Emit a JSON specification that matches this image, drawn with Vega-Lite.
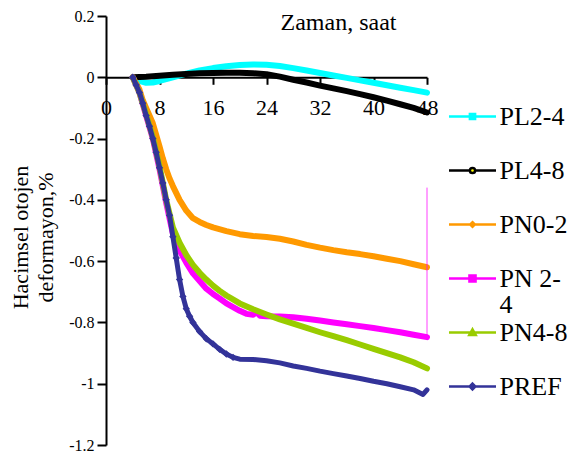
{
  "$schema": "https://vega.github.io/schema/vega-lite/v6.json",
  "width": 321,
  "height": 429,
  "autosize": {"type": "none"},
  "padding": {"left": 106, "top": 16, "right": 145, "bottom": 9},
  "background": "white",
  "config": {
    "font": "Liberation Serif",
    "view": {"stroke": null},
    "axis": {"grid": false, "domainColor": "black", "tickColor": "black", "labelColor": "black", "titleColor": "black", "titleFontWeight": "normal", "domainWidth": 2, "tickWidth": 2, "labelFont": "Liberation Serif", "titleFont": "Liberation Serif"},
    "legend": {"labelFont": "Liberation Serif", "labelColor": "black"}
  },
  "data": {"values": [
    {"s": "PL2-4", "t": 4, "v": 0}, {"s": "PL2-4", "t": 5, "v": -0.012}, {"s": "PL2-4", "t": 6, "v": -0.018}, {"s": "PL2-4", "t": 7, "v": -0.017}, {"s": "PL2-4", "t": 8, "v": -0.012}, {"s": "PL2-4", "t": 10, "v": 0}, {"s": "PL2-4", "t": 12, "v": 0.012}, {"s": "PL2-4", "t": 14, "v": 0.022}, {"s": "PL2-4", "t": 16, "v": 0.03}, {"s": "PL2-4", "t": 18, "v": 0.036}, {"s": "PL2-4", "t": 20, "v": 0.04}, {"s": "PL2-4", "t": 22, "v": 0.042}, {"s": "PL2-4", "t": 24, "v": 0.041}, {"s": "PL2-4", "t": 26, "v": 0.037}, {"s": "PL2-4", "t": 28, "v": 0.03}, {"s": "PL2-4", "t": 30, "v": 0.022}, {"s": "PL2-4", "t": 32, "v": 0.014}, {"s": "PL2-4", "t": 34, "v": 0.006}, {"s": "PL2-4", "t": 36, "v": -0.002}, {"s": "PL2-4", "t": 38, "v": -0.01}, {"s": "PL2-4", "t": 40, "v": -0.018}, {"s": "PL2-4", "t": 42, "v": -0.026}, {"s": "PL2-4", "t": 44, "v": -0.034}, {"s": "PL2-4", "t": 46, "v": -0.042}, {"s": "PL2-4", "t": 48, "v": -0.05},
    {"s": "PL4-8", "t": 4, "v": 0}, {"s": "PL4-8", "t": 6, "v": 0.002}, {"s": "PL4-8", "t": 8, "v": 0.005}, {"s": "PL4-8", "t": 10, "v": 0.008}, {"s": "PL4-8", "t": 12, "v": 0.011}, {"s": "PL4-8", "t": 14, "v": 0.013}, {"s": "PL4-8", "t": 16, "v": 0.014}, {"s": "PL4-8", "t": 18, "v": 0.015}, {"s": "PL4-8", "t": 20, "v": 0.015}, {"s": "PL4-8", "t": 22, "v": 0.013}, {"s": "PL4-8", "t": 24, "v": 0.01}, {"s": "PL4-8", "t": 26, "v": 0.002}, {"s": "PL4-8", "t": 28, "v": -0.008}, {"s": "PL4-8", "t": 30, "v": -0.017}, {"s": "PL4-8", "t": 32, "v": -0.027}, {"s": "PL4-8", "t": 34, "v": -0.036}, {"s": "PL4-8", "t": 36, "v": -0.045}, {"s": "PL4-8", "t": 38, "v": -0.055}, {"s": "PL4-8", "t": 40, "v": -0.065}, {"s": "PL4-8", "t": 42, "v": -0.076}, {"s": "PL4-8", "t": 44, "v": -0.088}, {"s": "PL4-8", "t": 46, "v": -0.1}, {"s": "PL4-8", "t": 48, "v": -0.115},
    {"s": "PN0-2", "t": 4, "v": 0}, {"s": "PN0-2", "t": 5, "v": -0.04}, {"s": "PN0-2", "t": 5.5, "v": -0.075}, {"s": "PN0-2", "t": 6, "v": -0.1}, {"s": "PN0-2", "t": 7, "v": -0.15}, {"s": "PN0-2", "t": 8, "v": -0.225}, {"s": "PN0-2", "t": 8.5, "v": -0.265}, {"s": "PN0-2", "t": 9, "v": -0.3}, {"s": "PN0-2", "t": 9.5, "v": -0.33}, {"s": "PN0-2", "t": 10, "v": -0.355}, {"s": "PN0-2", "t": 11, "v": -0.4}, {"s": "PN0-2", "t": 12, "v": -0.435}, {"s": "PN0-2", "t": 13, "v": -0.46}, {"s": "PN0-2", "t": 14, "v": -0.472}, {"s": "PN0-2", "t": 15, "v": -0.482}, {"s": "PN0-2", "t": 16, "v": -0.49}, {"s": "PN0-2", "t": 18, "v": -0.502}, {"s": "PN0-2", "t": 20, "v": -0.512}, {"s": "PN0-2", "t": 22, "v": -0.518}, {"s": "PN0-2", "t": 24, "v": -0.521}, {"s": "PN0-2", "t": 26, "v": -0.527}, {"s": "PN0-2", "t": 28, "v": -0.536}, {"s": "PN0-2", "t": 30, "v": -0.547}, {"s": "PN0-2", "t": 32, "v": -0.556}, {"s": "PN0-2", "t": 34, "v": -0.564}, {"s": "PN0-2", "t": 36, "v": -0.571}, {"s": "PN0-2", "t": 38, "v": -0.577}, {"s": "PN0-2", "t": 40, "v": -0.584}, {"s": "PN0-2", "t": 42, "v": -0.592}, {"s": "PN0-2", "t": 44, "v": -0.6}, {"s": "PN0-2", "t": 46, "v": -0.61}, {"s": "PN0-2", "t": 48, "v": -0.62},
    {"s": "PN 2-4", "t": 4, "v": 0}, {"s": "PN 2-4", "t": 5, "v": -0.05}, {"s": "PN 2-4", "t": 6, "v": -0.125}, {"s": "PN 2-4", "t": 7, "v": -0.2}, {"s": "PN 2-4", "t": 8, "v": -0.3}, {"s": "PN 2-4", "t": 9, "v": -0.41}, {"s": "PN 2-4", "t": 10, "v": -0.51}, {"s": "PN 2-4", "t": 11, "v": -0.565}, {"s": "PN 2-4", "t": 12, "v": -0.605}, {"s": "PN 2-4", "t": 13, "v": -0.64}, {"s": "PN 2-4", "t": 14, "v": -0.665}, {"s": "PN 2-4", "t": 15, "v": -0.69}, {"s": "PN 2-4", "t": 16, "v": -0.707}, {"s": "PN 2-4", "t": 17, "v": -0.722}, {"s": "PN 2-4", "t": 18, "v": -0.738}, {"s": "PN 2-4", "t": 20, "v": -0.762}, {"s": "PN 2-4", "t": 21, "v": -0.772}, {"s": "PN 2-4", "t": 22, "v": -0.775}, {"s": "PN 2-4", "t": 22.5, "v": -0.765}, {"s": "PN 2-4", "t": 23, "v": -0.778}, {"s": "PN 2-4", "t": 24, "v": -0.78}, {"s": "PN 2-4", "t": 26, "v": -0.781}, {"s": "PN 2-4", "t": 28, "v": -0.783}, {"s": "PN 2-4", "t": 30, "v": -0.788}, {"s": "PN 2-4", "t": 32, "v": -0.794}, {"s": "PN 2-4", "t": 34, "v": -0.8}, {"s": "PN 2-4", "t": 36, "v": -0.806}, {"s": "PN 2-4", "t": 38, "v": -0.812}, {"s": "PN 2-4", "t": 40, "v": -0.818}, {"s": "PN 2-4", "t": 42, "v": -0.825}, {"s": "PN 2-4", "t": 44, "v": -0.832}, {"s": "PN 2-4", "t": 46, "v": -0.84}, {"s": "PN 2-4", "t": 48, "v": -0.848},
    {"s": "PN4-8", "t": 4, "v": 0}, {"s": "PN4-8", "t": 5, "v": -0.05}, {"s": "PN4-8", "t": 6, "v": -0.12}, {"s": "PN4-8", "t": 7, "v": -0.195}, {"s": "PN4-8", "t": 8, "v": -0.29}, {"s": "PN4-8", "t": 9, "v": -0.4}, {"s": "PN4-8", "t": 10, "v": -0.49}, {"s": "PN4-8", "t": 11, "v": -0.54}, {"s": "PN4-8", "t": 12, "v": -0.58}, {"s": "PN4-8", "t": 13, "v": -0.612}, {"s": "PN4-8", "t": 14, "v": -0.638}, {"s": "PN4-8", "t": 15, "v": -0.66}, {"s": "PN4-8", "t": 16, "v": -0.68}, {"s": "PN4-8", "t": 17, "v": -0.697}, {"s": "PN4-8", "t": 18, "v": -0.712}, {"s": "PN4-8", "t": 20, "v": -0.738}, {"s": "PN4-8", "t": 22, "v": -0.757}, {"s": "PN4-8", "t": 24, "v": -0.774}, {"s": "PN4-8", "t": 26, "v": -0.79}, {"s": "PN4-8", "t": 28, "v": -0.804}, {"s": "PN4-8", "t": 30, "v": -0.818}, {"s": "PN4-8", "t": 32, "v": -0.832}, {"s": "PN4-8", "t": 34, "v": -0.845}, {"s": "PN4-8", "t": 36, "v": -0.858}, {"s": "PN4-8", "t": 38, "v": -0.872}, {"s": "PN4-8", "t": 40, "v": -0.886}, {"s": "PN4-8", "t": 42, "v": -0.9}, {"s": "PN4-8", "t": 44, "v": -0.914}, {"s": "PN4-8", "t": 46, "v": -0.93}, {"s": "PN4-8", "t": 48, "v": -0.95},
    {"s": "PREF", "t": 4, "v": 0}, {"s": "PREF", "t": 4.5, "v": -0.025}, {"s": "PREF", "t": 5, "v": -0.05}, {"s": "PREF", "t": 5.5, "v": -0.085}, {"s": "PREF", "t": 6, "v": -0.125}, {"s": "PREF", "t": 6.5, "v": -0.16}, {"s": "PREF", "t": 7, "v": -0.2}, {"s": "PREF", "t": 7.5, "v": -0.245}, {"s": "PREF", "t": 8, "v": -0.295}, {"s": "PREF", "t": 8.5, "v": -0.345}, {"s": "PREF", "t": 9, "v": -0.4}, {"s": "PREF", "t": 9.5, "v": -0.45}, {"s": "PREF", "t": 10, "v": -0.52}, {"s": "PREF", "t": 10.5, "v": -0.59}, {"s": "PREF", "t": 11, "v": -0.66}, {"s": "PREF", "t": 11.5, "v": -0.715}, {"s": "PREF", "t": 12, "v": -0.755}, {"s": "PREF", "t": 12.5, "v": -0.78}, {"s": "PREF", "t": 13, "v": -0.8}, {"s": "PREF", "t": 14, "v": -0.83}, {"s": "PREF", "t": 15, "v": -0.853}, {"s": "PREF", "t": 16, "v": -0.87}, {"s": "PREF", "t": 17, "v": -0.888}, {"s": "PREF", "t": 18, "v": -0.903}, {"s": "PREF", "t": 19, "v": -0.914}, {"s": "PREF", "t": 20, "v": -0.92}, {"s": "PREF", "t": 22, "v": -0.921}, {"s": "PREF", "t": 24, "v": -0.925}, {"s": "PREF", "t": 26, "v": -0.932}, {"s": "PREF", "t": 28, "v": -0.942}, {"s": "PREF", "t": 30, "v": -0.95}, {"s": "PREF", "t": 32, "v": -0.959}, {"s": "PREF", "t": 34, "v": -0.967}, {"s": "PREF", "t": 36, "v": -0.975}, {"s": "PREF", "t": 38, "v": -0.983}, {"s": "PREF", "t": 40, "v": -0.992}, {"s": "PREF", "t": 42, "v": -1.0}, {"s": "PREF", "t": 44, "v": -1.01}, {"s": "PREF", "t": 46, "v": -1.02}, {"s": "PREF", "t": 47.4, "v": -1.035}, {"s": "PREF", "t": 48, "v": -1.02}
  ]},
  "layer": [
    {
      "transform": [{"filter": "datum.s != 'PREF'"}],
      "mark": {"type": "line", "strokeCap": "round", "strokeJoin": "round", "strokeWidth": 6},
      "encoding": {
        "x": {"field": "t", "type": "quantitative", "scale": {"domain": [0, 48], "nice": false, "zero": false},
          "axis": {"values": [0, 8, 16, 24, 32, 40, 48], "orient": "bottom", "offset": -367.714, "title": "Zaman, saat", "titleFontSize": 24, "titleX": 232, "titleY": -48, "titleAlign": "center", "titleBaseline": "alphabetic", "titleAnchor": "start", "labelFontSize": 22, "tickSize": 7, "labelPadding": 13, "labelFlush": false, "labelOverlap": false}},
        "y": {"field": "v", "type": "quantitative", "scale": {"domain": [-1.2, 0.2], "nice": false, "zero": false},
          "axis": {"values": [-1.2, -1, -0.8, -0.6, -0.4, -0.2, 0, 0.2], "labelExpr": "'' + round(datum.value*10)/10", "labelFontSize": 16, "tickSize": 9, "labelPadding": 3, "title": ["Hacimsel otojen", "deformayon,%"], "titleFontSize": 22, "titleLineHeight": 25, "titleX": -86, "titleY": 221, "titleAngle": -90, "titleAlign": "center", "titleBaseline": "middle", "titleAnchor": "start"}},
        "color": {"field": "s", "type": "nominal",
          "scale": {"domain": ["PL2-4", "PL4-8", "PN0-2", "PN 2-4", "PN4-8", "PREF"], "range": ["#00FFFF", "#000000", "#FF9900", "#FF00FF", "#99CC00", "#333399"]},
          "legend": {"orient": "none", "legendX": 352, "legendY": 86, "title": null, "symbolSize": 676, "symbolStrokeWidth": 2.5, "labelFontSize": 26, "labelOffset": 12.5, "rowPadding": 0, "padding": 0, "labelLimit": 0,
            "labelExpr": "datum.label == 'PN 2-4' ? ['PN 2-', '4'] : [datum.label, '']",
            "encode": {
              "symbols": {"update": {
                "shape": {"signal": "datum.value == 'PL2-4' ? 'M-1.808,0H1.808M-0.2,-0.2H0.2V0.2H-0.2Z' : datum.value == 'PL4-8' ? 'M-1.808,0H-0.2M0.2,0H1.808M0.2,0A0.2,0.2,0,1,1,-0.2,0A0.2,0.2,0,1,1,0.2,0Z' : datum.value == 'PN0-2' ? 'M-1.808,0H1.808M0,-0.18L0.18,0L0,0.18L-0.18,0Z' : datum.value == 'PN 2-4' ? 'M-1.808,0H1.808M-0.235,-0.235H0.235V0.235H-0.235Z' : datum.value == 'PN4-8' ? 'M-1.808,0H1.808M0,-0.25L0.25,0.2H-0.25Z' : 'M-1.808,0H1.808M0,-0.22L0.22,0L0,0.22L-0.22,0Z'"},
                "fill": {"signal": "datum.value == 'PL4-8' ? '#FFFF00' : scale('color', datum.value)"},
                "stroke": {"signal": "scale('color', datum.value)"},
                "strokeWidth": {"value": 2.5},
                "size": {"value": 676}
              }},
              "labels": {"update": {"lineHeight": {"value": 26.5}}}
            }
          }}
      }
    },
    {
      "transform": [{"filter": "datum.s == 'PREF'"}],
      "mark": {"type": "line", "strokeCap": "round", "strokeJoin": "round", "strokeWidth": 5},
      "encoding": {
        "x": {"field": "t", "type": "quantitative"},
        "y": {"field": "v", "type": "quantitative"},
        "color": {"field": "s", "type": "nominal"}
      }
    },
    {
      "transform": [{"filter": "datum.s == 'PREF' && datum.t < 20"}],
      "mark": {"type": "point", "filled": true, "opacity": 1, "shape": "diamond", "size": 55, "color": "#333399"},
      "encoding": {
        "x": {"field": "t", "type": "quantitative"},
        "y": {"field": "v", "type": "quantitative"}
      }
    },
    {
      "data": {"values": [{"t": 48, "v": -0.36, "v2": -0.848}]},
      "mark": {"type": "rule", "stroke": "#FF00FF", "strokeWidth": 1, "opacity": 0.75},
      "encoding": {
        "x": {"field": "t", "type": "quantitative"},
        "y": {"field": "v", "type": "quantitative"},
        "y2": {"field": "v2"}
      }
    }
  ]
}
